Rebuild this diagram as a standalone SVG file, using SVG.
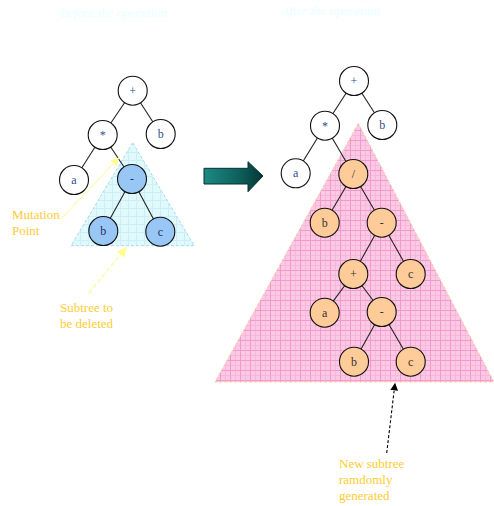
<svg xmlns="http://www.w3.org/2000/svg" width="494" height="506" viewBox="0 0 494 506">
  <style>
    .title { font-family: "Liberation Serif", serif; font-style: italic; font-size: 13px; fill: #EAFFFF; }
    .note { font-family: "Liberation Serif", serif; font-size: 13px; fill: #FFCC33; }
    .edge { stroke: #222; stroke-width: 1.1; fill: none; }
    .node circle { stroke: #111; stroke-width: 1.1; }
    .plain circle { fill: #FFFFFF; }
    .del circle { fill: #99C7F5; }
    .gen circle { fill: #FFCC99; }
    .node text { font-family: "Liberation Serif", serif; font-size: 12px; text-anchor: middle; }
    .plain text { fill: #2F4F8F; }
    .del text { fill: #1F2F5F; }
    .gen text { fill: #333; }
  </style>
  <defs>
    <pattern id="gridBlue" width="8" height="8" patternUnits="userSpaceOnUse">
      <rect width="8" height="8" fill="#E0FAFC"/>
      <path d="M0 0.5H8M0.5 0V8" stroke="#CDEEF8" stroke-width="1"/>
    </pattern>
    <pattern id="gridPink" width="10" height="10" patternUnits="userSpaceOnUse">
      <rect width="10" height="10" fill="#FBC9E4"/>
      <path d="M0 5.5H10M5.5 0V10" stroke="#F7B6DA" stroke-width="1"/>
      <path d="M0 0.5H10M0.5 0V10" stroke="#F29ACB" stroke-width="1"/>
    </pattern>
    <linearGradient id="arrowFill" x1="0" y1="0" x2="1" y2="0">
      <stop offset="0" stop-color="#1C8A82"/>
      <stop offset="0.6" stop-color="#0E5F5C"/>
      <stop offset="1" stop-color="#053634"/>
    </linearGradient>
    <marker id="headYellow" viewBox="0 0 10 10" refX="9" refY="5" markerWidth="8" markerHeight="8" orient="auto">
      <path d="M0 0L10 5L0 10Z" fill="#FFFF88"/>
    </marker>
    <marker id="headBlack" viewBox="0 0 10 10" refX="9" refY="5" markerWidth="7" markerHeight="7" orient="auto">
      <path d="M0 0L10 5L0 10Z" fill="#000"/>
    </marker>
  </defs>

  <rect width="494" height="506" fill="#FFFFFF"/>

  <!-- headings -->
  <text class="title" x="60" y="17">Before the operation</text>
  <text class="title" x="281" y="15">After the operation</text>

  <!-- subtree regions -->
  <polygon id="deletedRegion" points="132.7,142.7 71,245.7 194.3,245.7" fill="url(#gridBlue)" stroke="#A8D8F2" stroke-width="1" stroke-dasharray="3,2"/>
  <polygon id="generatedRegion" points="358.3,123.3 215,382 494,382" fill="url(#gridPink)" stroke="#F7CFA5" stroke-width="1" stroke-dasharray="3,2"/>

  <!-- transition arrow -->
  <polygon id="transition" points="204,168.3 248,168.3 248,161.7 263,176 248,191.7 248,184 204,184" fill="url(#arrowFill)" stroke="#0A2E2E" stroke-width="1"/>

  <g id="connectors">
    <!-- tree before -->
    <line class="edge" x1="132.7" y1="90.7" x2="102.7" y2="135"/>
    <line class="edge" x1="132.7" y1="90.7" x2="160.7" y2="134"/>
    <line class="edge" x1="102.7" y1="135" x2="74" y2="180"/>
    <line class="edge" x1="102.7" y1="135" x2="132" y2="179"/>
    <line class="edge" x1="132" y1="179" x2="103.3" y2="231"/>
    <line class="edge" x1="132" y1="179" x2="160.3" y2="231.7"/>
    <!-- tree after -->
    <line class="edge" x1="354" y1="81" x2="325" y2="125.7"/>
    <line class="edge" x1="354" y1="81" x2="382.3" y2="125"/>
    <line class="edge" x1="325" y1="125.7" x2="295.7" y2="173.3"/>
    <line class="edge" x1="325" y1="125.7" x2="353.3" y2="174"/>
    <line class="edge" x1="353.3" y1="174" x2="324.7" y2="222.7"/>
    <line class="edge" x1="353.3" y1="174" x2="381.7" y2="222.7"/>
    <line class="edge" x1="381.7" y1="222.7" x2="353.3" y2="274"/>
    <line class="edge" x1="381.7" y1="222.7" x2="410.7" y2="274"/>
    <line class="edge" x1="353.3" y1="274" x2="324.7" y2="312.7"/>
    <line class="edge" x1="353.3" y1="274" x2="381.7" y2="312"/>
    <line class="edge" x1="381.7" y1="312" x2="354" y2="361.7"/>
    <line class="edge" x1="381.7" y1="312" x2="410.7" y2="361.7"/>
    <!-- callouts -->
    <line x1="61" y1="219" x2="118.5" y2="158" stroke="#FFFF88" stroke-width="1" marker-end="url(#headYellow)"/>
    <line x1="89" y1="293" x2="126" y2="248" stroke="#FFFF88" stroke-width="1.2" stroke-dasharray="4,3" marker-end="url(#headYellow)"/>
    <line x1="386.7" y1="453" x2="395" y2="383.5" stroke="#000" stroke-width="1.1" stroke-dasharray="3,2" marker-end="url(#headBlack)"/>
  </g>

  <!-- tree before -->
  <g id="b-plus" class="node plain"><circle cx="132.7" cy="90.7" r="14.5"/><text x="132.7" y="94.7">+</text></g>
  <g id="b-times" class="node plain"><circle cx="102.7" cy="135" r="14.5"/><text x="102.7" y="139">*</text></g>
  <g id="b-b" class="node plain"><circle cx="160.7" cy="134" r="14.5"/><text x="160.7" y="138">b</text></g>
  <g id="b-a" class="node plain"><circle cx="74" cy="180" r="14.5"/><text x="74" y="184">a</text></g>
  <g id="b-minus" class="node del"><circle cx="132" cy="179" r="14.5"/><text x="132" y="183">-</text></g>
  <g id="b-minus-b" class="node del"><circle cx="103.3" cy="231" r="14.5"/><text x="103.3" y="235">b</text></g>
  <g id="b-minus-c" class="node del"><circle cx="160.3" cy="231.7" r="14.5"/><text x="160.3" y="235.7">c</text></g>

  <!-- tree after -->
  <g id="a-plus" class="node plain"><circle cx="354" cy="81" r="14.5"/><text x="354" y="85">+</text></g>
  <g id="a-times" class="node plain"><circle cx="325" cy="125.7" r="14.5"/><text x="325" y="129.7">*</text></g>
  <g id="a-b" class="node plain"><circle cx="382.3" cy="125" r="14.5"/><text x="382.3" y="129">b</text></g>
  <g id="a-a" class="node plain"><circle cx="295.7" cy="173.3" r="14.5"/><text x="295.7" y="177.3">a</text></g>
  <g id="g-div" class="node gen"><circle cx="353.3" cy="174" r="14.5"/><text x="353.3" y="178">/</text></g>
  <g id="g-b1" class="node gen"><circle cx="324.7" cy="222.7" r="14.5"/><text x="324.7" y="226.7">b</text></g>
  <g id="g-minus1" class="node gen"><circle cx="381.7" cy="222.7" r="14.5"/><text x="381.7" y="226.7">-</text></g>
  <g id="g-plus" class="node gen"><circle cx="353.3" cy="274" r="14.5"/><text x="353.3" y="278">+</text></g>
  <g id="g-c1" class="node gen"><circle cx="410.7" cy="274" r="14.5"/><text x="410.7" y="278">c</text></g>
  <g id="g-a" class="node gen"><circle cx="324.7" cy="312.7" r="14.5"/><text x="324.7" y="316.7">a</text></g>
  <g id="g-minus2" class="node gen"><circle cx="381.7" cy="312" r="14.5"/><text x="381.7" y="316">-</text></g>
  <g id="g-b2" class="node gen"><circle cx="354" cy="361.7" r="14.5"/><text x="354" y="365.7">b</text></g>
  <g id="g-c2" class="node gen"><circle cx="410.7" cy="361.7" r="14.5"/><text x="410.7" y="365.7">c</text></g>

  <!-- notes -->
  <text class="note" x="12" y="219">Mutation</text>
  <text class="note" x="12" y="235">Point</text>
  <text class="note" x="60" y="312">Subtree to</text>
  <text class="note" x="60" y="328">be deleted</text>
  <text class="note" x="339" y="468">New subtree</text>
  <text class="note" x="339" y="484">ramdomly</text>
  <text class="note" x="339" y="500">generated</text>
</svg>
